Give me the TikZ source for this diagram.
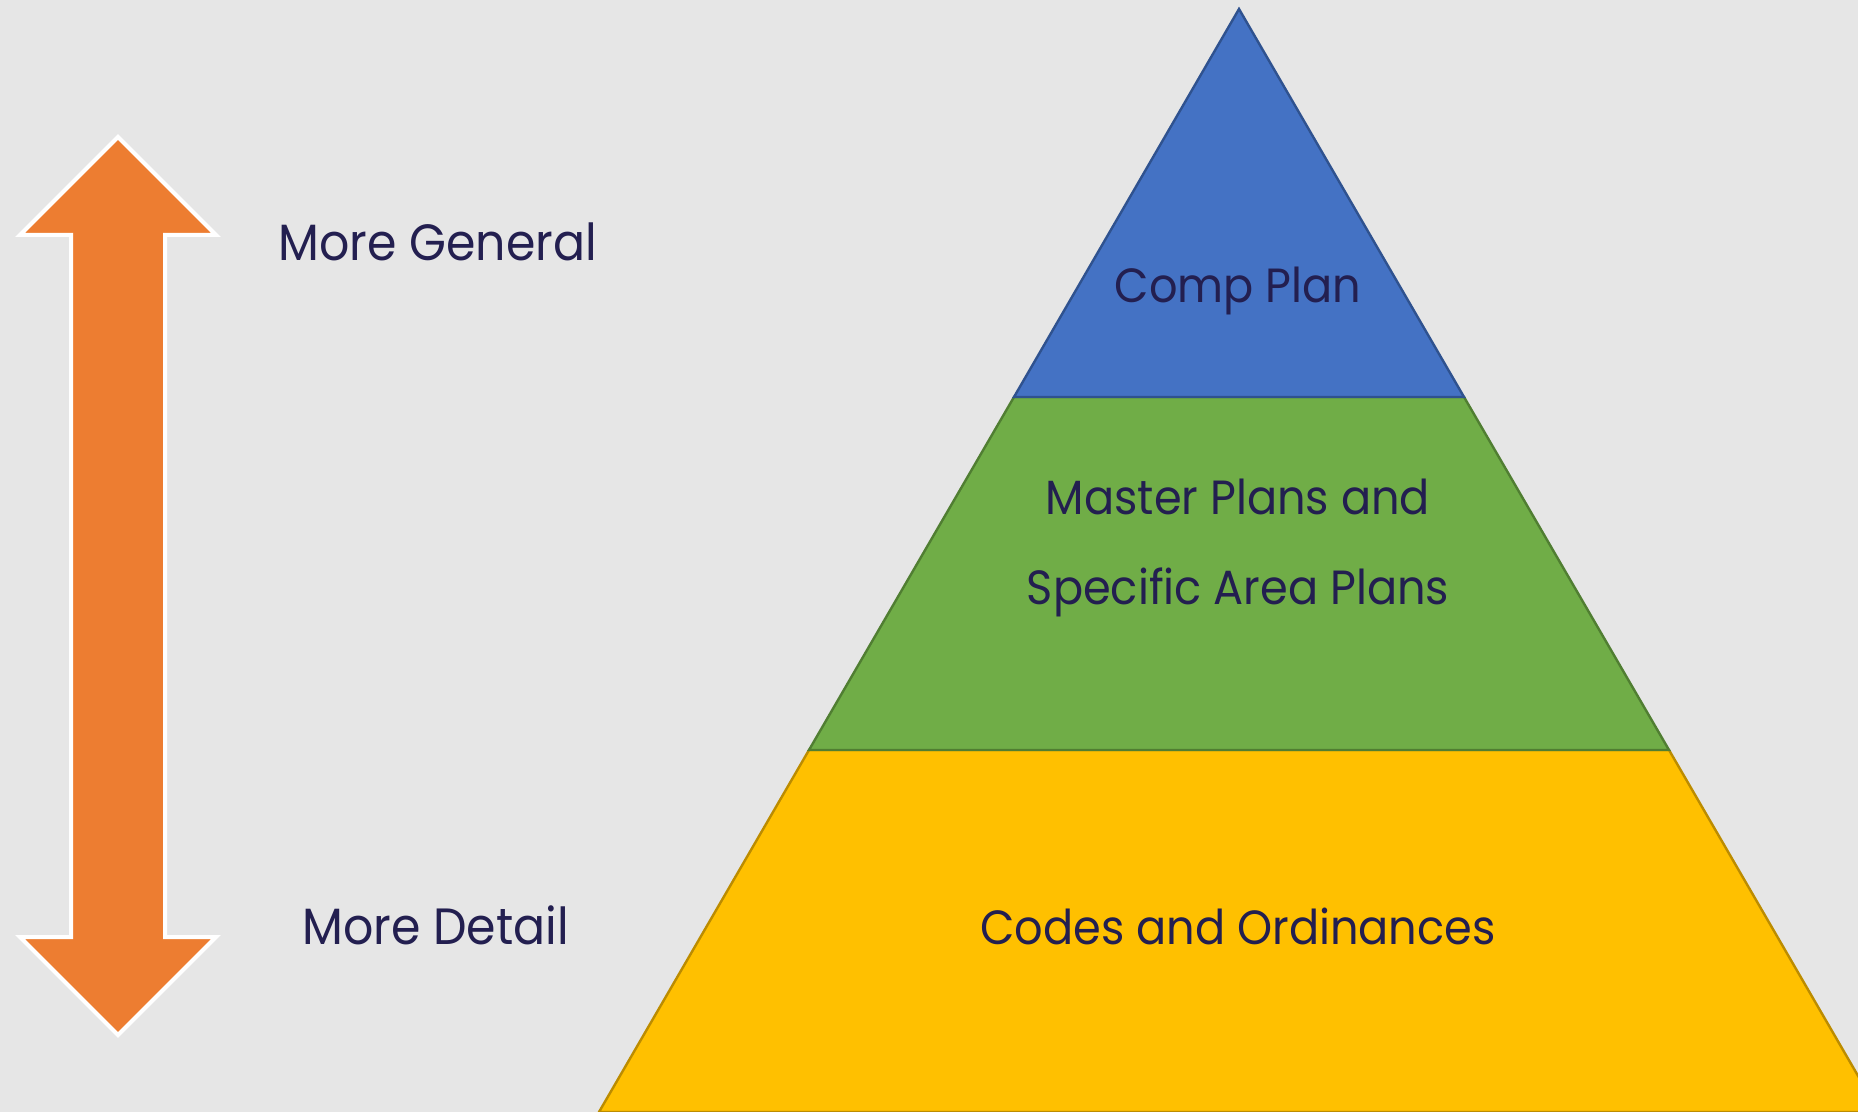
\documentclass[tikz,border=0pt]{standalone}
\usepackage{fontspec}
\setmainfont[FakeStretch=0.93]{Poppins}
\definecolor{bgc}{HTML}{E6E6E6}
\definecolor{txt}{HTML}{231F50}
\definecolor{pblue}{HTML}{4472C4}
\definecolor{pblueE}{HTML}{2F528F}
\definecolor{pgreen}{HTML}{70AD47}
\definecolor{pgreenE}{HTML}{507E32}
\definecolor{pyel}{HTML}{FFC000}
\definecolor{pyelE}{HTML}{BC8C00}
\definecolor{porange}{HTML}{ED7D31}
\begin{document}
\begin{tikzpicture}[x=0.5pt,y=-0.5pt,
  lbl/.style={text=txt,font=\fontsize{24}{28}\selectfont,inner sep=0pt,anchor=base},
  side/.style={lbl,font=\fontsize{25.5}{30}\selectfont,anchor=base west},
  layer/.style={line width=1.2pt}]
\fill[bgc] (0,0) rectangle (1858,1112);
\useasboundingbox (0,0) rectangle (1858,1112);
\begin{scope}
\clip (0,0) rectangle (1858,1112);
\filldraw[layer,fill=pyel,draw=pyelE] (809,750) -- (1669,750) -- (1879,1112) -- (599,1112) -- cycle;
\filldraw[layer,fill=pgreen,draw=pgreenE] (1014,397) -- (1464,397) -- (1669,750) -- (809,750) -- cycle;
\filldraw[layer,fill=pblue,draw=pblueE] (1239,9) -- (1464,397) -- (1014,397) -- cycle;
\end{scope}
\filldraw[fill=porange,draw=white,line width=2pt,line join=miter]
  (118,137) -- (216,235) -- (165,235) -- (165,937) -- (216,937) -- (118,1035)
  -- (20,937) -- (71,937) -- (71,235) -- (20,235) -- cycle;
\node[side] (gen) at (278,261) {More General};
\node[side] (det) at (302,944) {More Detail};
\node[lbl] (comp) at (1238,303) {Comp Plan};
\node[lbl] (mast) at (1238,515) {Master Plans and};
\node[lbl] (spec) at (1238,604) {Specific Area Plans};
\node[lbl] (code) at (1238,944) {Codes and Ordinances};
\end{tikzpicture}
\end{document}
